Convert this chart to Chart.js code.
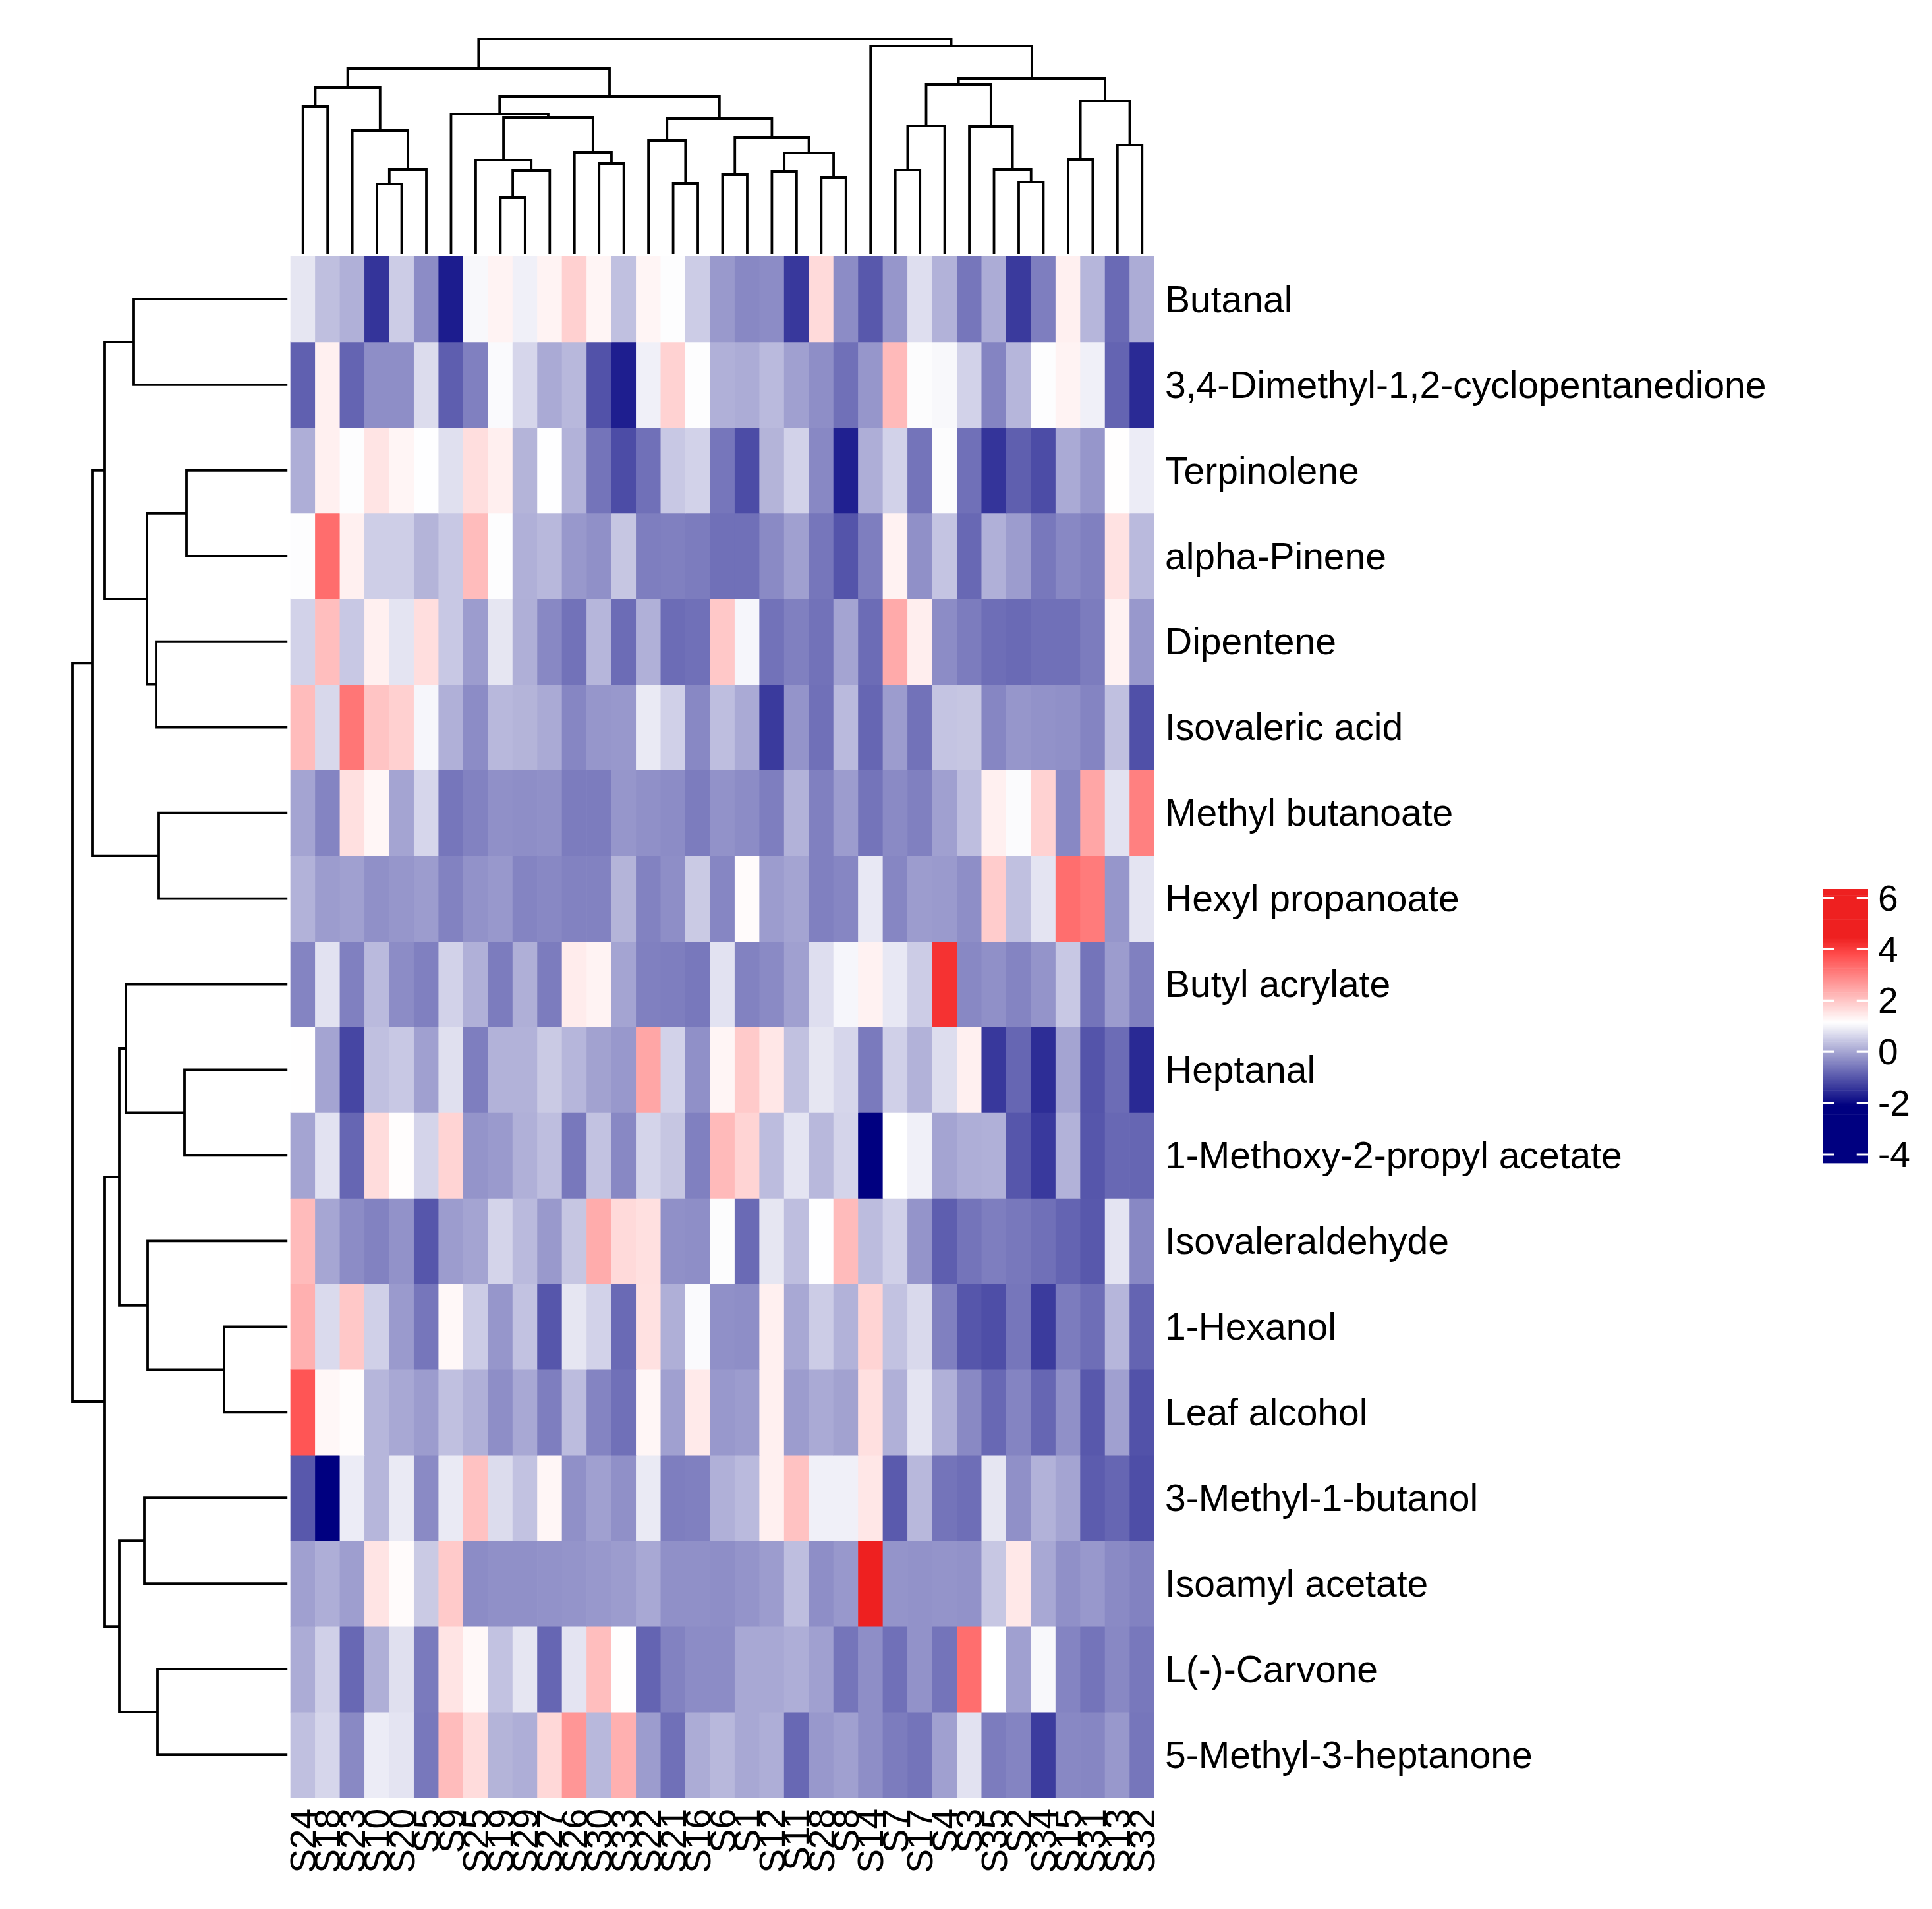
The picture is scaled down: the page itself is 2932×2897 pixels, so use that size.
<!DOCTYPE html>
<html>
<head>
<meta charset="utf-8">
<style>
html,body{margin:0;padding:0;background:#fff;width:2932px;height:2897px;overflow:hidden}
canvas{position:absolute;display:block}
</style>
<script src="https://cdn.jsdelivr.net/npm/chart.js@4/dist/chart.umd.min.js"></script>
</head>
<body>
<canvas id="main" width="2932" height="2897" style="left:0;top:0;width:2932px;height:2897px"></canvas>
<canvas id="bar" width="192" height="540" style="left:2740px;top:1290px;width:192px;height:540px"></canvas>
<script>
const colNames = ["S24","S18","S23","S10","S20","S5","S9","S25","S19","S29","S27","S26","S30","S33","S22","S21","S16","S6","S1","S12","S11","S28","S8","S14","S7","S17","S4","S3","S35","S2","S34","S15","S31","S13","S32"];
const rowNames = ["Butanal","3,4-Dimethyl-1,2-cyclopentanedione","Terpinolene","alpha-Pinene","Dipentene","Isovaleric acid","Methyl butanoate","Hexyl propanoate","Butyl acrylate","Heptanal","1-Methoxy-2-propyl acetate","Isovaleraldehyde","1-Hexanol","Leaf alcohol","3-Methyl-1-butanol","Isoamyl acetate","L(-)-Carvone","5-Methyl-3-heptanone"];

const vButanal = [0.83,0.33,0.14,-1.44,0.50,-0.32,-1.74,1.06,1.33,0.96,1.33,1.85,1.30,0.35,1.30,1.13,0.50,-0.15,-0.37,-0.32,-1.39,1.70,-0.32,-0.98,-0.19,0.73,0.17,-0.60,0.09,-1.36,-0.49,1.38,0.22,-0.75,0.09];
const vDimethyl = [-0.88,1.38,-0.83,-0.29,-0.29,0.70,-0.90,-0.47,1.09,0.63,0.07,0.25,-1.05,-1.72,0.96,1.82,1.12,0.14,0.09,0.27,-0.06,-0.29,-0.67,-0.19,2.18,1.11,1.06,0.58,-0.42,0.22,1.13,1.33,0.96,-0.83,-1.56];
const vTerpinolene = [0.12,1.38,1.13,1.55,1.30,1.14,0.75,1.64,1.39,0.19,1.14,0.17,-0.62,-1.13,-0.67,0.45,0.58,-0.60,-1.13,0.19,0.58,-0.37,-1.69,0.12,0.58,-0.62,1.11,-0.67,-1.44,-0.89,-1.13,0.07,-0.19,1.17,0.91];
const vAlphaPinene = [1.13,3.32,1.38,0.53,0.53,0.19,0.45,2.15,1.13,0.14,0.25,-0.16,-0.26,0.42,-0.49,-0.47,-0.52,-0.67,-0.67,-0.34,-0.06,-0.60,-1.03,-0.49,1.35,-0.26,0.40,-0.77,0.14,-0.11,-0.57,-0.37,-0.47,1.58,0.27];
const vDipentene = [0.58,2.11,0.45,1.38,0.81,1.64,0.45,-0.11,0.83,0.13,-0.37,-0.65,0.22,-0.72,0.14,-0.72,-0.67,1.97,1.04,-0.65,-0.47,-0.65,-0.01,-0.72,2.41,1.40,-0.32,-0.52,-0.70,-0.75,-0.67,-0.67,-0.52,1.34,-0.16];
const vIsovalericAcid = [2.15,0.65,3.19,2.03,1.85,1.04,0.14,-0.32,0.25,0.19,0.07,-0.39,-0.19,-0.16,0.88,0.55,-0.37,0.32,0.07,-1.36,-0.21,-0.67,0.27,-0.80,-0.11,-0.65,0.40,0.42,-0.39,-0.19,-0.24,-0.26,-0.42,0.35,-1.08];
const vMethylButanoate = [-0.01,-0.42,1.61,1.29,-0.01,0.63,-0.60,-0.44,-0.26,-0.29,-0.26,-0.52,-0.52,-0.19,-0.26,-0.32,-0.52,-0.24,-0.32,-0.49,0.17,-0.47,-0.11,-0.62,-0.34,-0.47,-0.06,0.32,1.38,1.10,1.82,-0.37,2.47,0.78,3.04];
const vHexylPropanoate = [0.17,-0.11,-0.06,-0.26,-0.19,-0.11,-0.44,-0.24,-0.16,-0.42,-0.37,-0.44,-0.44,0.19,-0.44,-0.29,0.47,-0.39,1.21,-0.11,-0.01,-0.47,-0.39,0.86,-0.39,-0.11,-0.14,-0.29,1.91,0.35,0.81,3.30,3.11,-0.19,0.81];
const vButylAcrylate = [-0.42,0.78,-0.47,0.27,-0.32,-0.47,0.58,0.14,-0.52,0.13,-0.52,1.43,1.33,-0.01,-0.47,-0.49,-0.57,0.78,-0.44,-0.34,-0.06,0.73,1.04,1.34,0.86,0.50,4.20,-0.37,-0.26,-0.42,-0.21,0.45,-0.62,-0.11,-0.47];
const vHeptanal = [1.17,-0.01,-1.21,0.35,0.45,-0.06,0.75,-0.49,0.17,0.17,0.47,0.22,-0.04,-0.16,2.47,0.58,-0.26,1.30,1.94,1.51,0.36,0.83,0.63,-0.55,0.55,0.17,0.72,1.38,-1.39,-0.80,-1.53,-0.01,-1.03,-0.72,-1.58];
const vMethoxyPropylAcetate = [-0.01,0.78,-0.80,1.67,1.18,0.60,1.79,-0.21,-0.14,0.14,0.32,-0.57,0.37,-0.37,0.60,0.42,-0.47,2.17,1.79,0.30,0.81,0.25,0.60,-2.50,1.15,0.96,-0.01,0.12,0.14,-1.00,-1.37,0.17,-1.00,-0.77,-0.80];
const vIsovaleraldehyde = [2.16,0.02,-0.32,-0.44,-0.24,-1.00,-0.11,-0.01,0.60,0.27,-0.15,0.42,2.38,1.70,1.61,-0.26,-0.29,1.11,-0.75,0.83,0.32,1.14,2.16,0.30,0.55,-0.21,-0.90,-0.62,-0.49,-0.57,-0.67,-0.83,-0.98,0.81,-0.37];
const vHexanol = [2.32,0.68,1.97,0.55,-0.14,-0.60,1.25,0.50,-0.19,0.37,-1.00,0.83,0.58,-0.75,1.60,0.13,1.09,-0.26,-0.29,1.38,0.04,0.50,0.17,1.79,0.37,0.67,-0.47,-1.00,-1.11,-0.60,-1.35,-0.52,-0.70,0.22,-0.83];
const vLeafAlcohol = [3.67,1.27,1.19,0.22,0.04,-0.11,0.35,0.14,-0.29,0.04,-0.49,0.30,-0.42,-0.67,1.29,-0.06,1.46,-0.16,-0.11,1.38,-0.11,0.07,-0.04,1.61,0.14,0.81,0.14,-0.35,-0.77,-0.42,-0.80,-0.26,-0.98,-0.06,-1.05];
const vMethylButanol = [-0.98,-2.50,0.91,0.22,0.88,-0.34,0.88,2.05,0.70,0.37,1.29,-0.26,-0.06,-0.26,0.88,-0.49,-0.47,0.14,0.27,1.38,2.05,0.96,0.96,1.51,-0.95,0.25,-0.62,-0.70,0.83,-0.26,0.17,-0.01,-0.93,-0.80,-1.11];
const vIsoamylAcetate = [-0.06,0.12,-0.09,1.55,1.21,0.47,1.94,-0.32,-0.26,-0.26,-0.24,-0.21,-0.16,-0.11,0.04,-0.26,-0.26,-0.29,-0.21,-0.11,0.32,-0.29,-0.16,5.50,-0.21,-0.24,-0.21,-0.24,0.44,1.49,0.04,-0.26,-0.16,-0.34,-0.44];
const vCarvone = [0.09,0.55,-0.77,0.13,0.75,-0.55,1.55,1.25,0.37,0.83,-0.80,0.81,2.11,1.16,-0.83,-0.44,-0.32,-0.32,0.04,0.04,0.12,-0.06,-0.61,-0.29,-0.67,-0.24,-0.62,3.30,1.15,-0.06,1.06,-0.42,-0.62,-0.37,-0.57];
const vMethylHeptanone = [0.35,0.63,-0.35,0.91,0.81,-0.57,2.14,1.67,0.19,0.12,1.73,2.71,0.25,2.32,-0.11,-0.67,0.09,0.25,0.04,0.12,-0.77,-0.16,-0.06,-0.29,-0.52,-0.62,-0.06,0.78,-0.52,-0.42,-1.34,-0.37,-0.39,-0.16,-0.60];

const colorbarTicks = [-4,-2,0,2,4,6];

// dendrograms: [left, right, height]; a plain number is a leaf index
const colTree = [[[[0,1,2.27],[2,[[3,4,1.10],5,1.32],1.91],2.56],[[6,[[7,[[8,9,0.89],10,1.30],1.46],[11,[12,13,1.41],1.58],2.11],2.16],[[14,[15,16,1.11],1.76],[[17,18,1.24],[[19,20,1.29],[21,22,1.20],1.57],1.80],2.09],2.43],2.85],[23,[[[[24,25,1.31],26,1.98],[27,[28,[29,30,1.13],1.32],1.97],2.61],[[31,32,1.47],[33,34,1.69],2.36],2.70],3.19],3.30];
const rowTree = [[[[0,1,2.38],[[2,3,1.58],[4,5,2.04],2.18],2.82],[6,7,2.00],3.01],[[[8,[9,10,1.61],2.50],[11,[12,13,1.01],2.17],2.60],[[14,15,2.22],[16,17,2.02],2.60],2.82],3.31];

const matrix = [vButanal,vDimethyl,vTerpinolene,vAlphaPinene,vDipentene,vIsovalericAcid,vMethylButanoate,vHexylPropanoate,vButylAcrylate,vHeptanal,vMethoxyPropylAcetate,vIsovaleraldehyde,vHexanol,vLeafAlcohol,vMethylButanol,vIsoamylAcetate,vCarvone,vMethylHeptanone];

// layout (page pixels)
const heatL = 441, heatR = 1752, heatT = 389, heatB = 2728, areaL = 100, areaT = 40;
const cw = (heatR - heatL) / colNames.length, rh = (heatB - heatT) / rowNames.length;
const heightUnit = 100, colLeafGap = 0.06, rowLeafGap = 0.067;

const LOW = -2.1, MID = 1.15, HIGH = 4.46;
function colorFor(v){
  if (v <= LOW) return 'rgb(0,0,128)';
  if (v <= MID){ const t=(v-LOW)/(MID-LOW); const c=Math.round(255*t); return `rgb(${c},${c},${Math.round(128+127*t)})`; }
  const t=Math.min(1,(v-MID)/(HIGH-MID));
  const g=Math.round(255-223*t);
  const r=t<0.8?255:Math.round(255-17*(t-0.8)/0.2);
  return `rgb(${r},${g},${g})`;
}

Chart.defaults.font.family = '"Liberation Sans"';
Chart.defaults.color = '#000';
Chart.defaults.animation = false;

function noPad(s){ s.paddingLeft=0; s.paddingRight=0; s.paddingTop=0; s.paddingBottom=0; }

function dendroPoints(tree, toPoint, leafH){
  const pts = [];
  function walk(n){
    if (typeof n === 'number') return {pos:n+0.5, h:leafH};
    const a = walk(n[0]), b = walk(n[1]), h = n[2];
    pts.push(toPoint(a.pos,a.h), toPoint(a.pos,h), toPoint(b.pos,h), toPoint(b.pos,b.h), {x:null,y:null});
    return {pos:(a.pos+b.pos)/2, h};
  }
  walk(tree);
  return pts;
}

const heatDatasets = matrix.map((vals,r)=>({
  type:'bar',
  data: vals.map((v,c)=>({x:c+0.5, y:[r,r+1], v})),
  backgroundColor: vals.map(colorFor),
  borderWidth:0,
  categoryPercentage:1,
  barPercentage:1,
  order:2
}));
const lineBase = {type:'scatter',showLine:true,pointRadius:0,borderColor:'#000',borderWidth:3.8,spanGaps:false,borderCapStyle:'square',borderJoinStyle:'miter',order:1};
const colDendro = Object.assign({},lineBase,{data:dendroPoints(colTree,(p,h)=>({x:p,y:-h*heightUnit/rh}),colLeafGap)});
const rowDendro = Object.assign({},lineBase,{data:dendroPoints(rowTree,(p,h)=>({x:-h*heightUnit/cw,y:p}),rowLeafGap)});

new Chart(document.getElementById('main'),{
  type:'bar',
  data:{datasets:[...heatDatasets,colDendro,rowDendro]},
  options:{
    responsive:false,
    maintainAspectRatio:false,
    animation:false,
    layout:{padding:{left:areaL,top:areaT,right:0,bottom:0}},
    plugins:{legend:{display:false},tooltip:{enabled:false}},
    scales:{
      x:{
        type:'linear',stacked:true,offset:false,
        min:-(heatL-areaL)/cw,max:colNames.length,
        grid:{display:false,drawTicks:false,offset:false},border:{display:false},
        afterBuildTicks(s){s.ticks=colNames.map((_,i)=>({value:i+0.5}));},
        afterFit(s){s.height=2897-heatB;noPad(s);},
        ticks:{
          autoSkip:false,minRotation:90,maxRotation:90,padding:17,labelOffset:4,
          font:{size:55},color:'#000',
          callback(v,i){return colNames[i];}
        }
      },
      y:{
        type:'linear',position:'right',reverse:true,
        min:-(heatT-areaT)/rh,max:rowNames.length,
        grid:{display:false,drawTicks:false},border:{display:false},
        afterBuildTicks(s){s.ticks=rowNames.map((_,i)=>({value:i+0.5}));},
        afterFit(s){s.width=2932-heatR;noPad(s);},
        ticks:{
          autoSkip:false,padding:16,labelOffset:4,font:{size:57},color:'#000',
          callback(v,i){return rowNames[i];}
        }
      }
    }
  }
});

// colour key
const keyTop = 6.347, keyBottom = -4.347, keyStep = 0.05;
const keySlices = [];
for (let k=0; keyBottom+k*keyStep < keyTop; k++) keySlices.push(keyBottom+k*keyStep);
const keyTickPts = [];
colorbarTicks.forEach(t=>{
  keyTickPts.push({x:0,y:t},{x:0.25,y:t},{x:null,y:null},{x:0.75,y:t},{x:1,y:t},{x:null,y:null});
});
new Chart(document.getElementById('bar'),{
  type:'bar',
  data:{datasets:[
    {type:'bar',data:keySlices.map(a=>({x:0.5,y:[a,Math.min(keyTop,a+keyStep)]})),backgroundColor:keySlices.map(a=>colorFor(a+keyStep/2)),borderWidth:0,categoryPercentage:1,barPercentage:1,order:2},
    {type:'scatter',showLine:true,pointRadius:0,borderColor:'#fff',borderWidth:3.2,spanGaps:false,data:keyTickPts,order:1}
  ]},
  options:{
    responsive:false,maintainAspectRatio:false,animation:false,
    layout:{padding:{left:26,top:59,right:0,bottom:64.5}},
    plugins:{legend:{display:false},tooltip:{enabled:false}},
    scales:{
      x:{type:'linear',display:false,offset:false,min:0,max:1,grid:{offset:false},afterBuildTicks(s){s.ticks=[{value:0},{value:1}];}},
      y:{
        type:'linear',position:'right',min:keyBottom,max:keyTop,
        grid:{display:false,drawTicks:false},border:{display:false},
        afterBuildTicks(s){s.ticks=colorbarTicks.map(v=>({value:v}));},
        afterFit(s){s.width=97;noPad(s);},
        ticks:{padding:15,labelOffset:4,font:{size:55},color:'#000',callback(v){return String(v);}}
      }
    }
  }
});
</script>
</body>
</html>
